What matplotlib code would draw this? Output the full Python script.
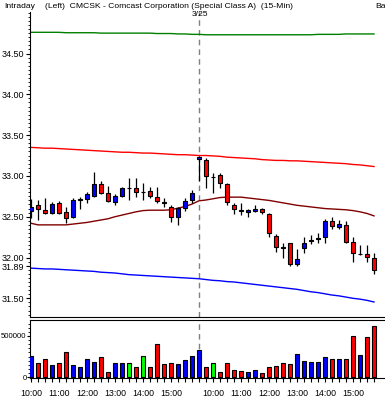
import matplotlib
matplotlib.use('Agg')
import matplotlib.pyplot as plt
import matplotlib.ticker as tck
import numpy as np

# 15-minute bars: day 1 from 10:00, day 2 (3/25) from 9:30
opens = [32.57, 32.645, 32.58, 32.54, 32.665, 32.56, 32.50, 32.71, 32.72, 32.755,
         32.90, 32.785, 32.685, 32.755, 32.85, 32.85, 32.80, 32.815, 32.74, 32.685,
         32.625, 32.495, 32.605, 32.70, 33.205, 33.195, 32.985, 33.01, 32.895, 32.645,
         32.58, 32.56, 32.575, 32.595, 32.53, 32.265, 32.125, 32.175, 31.915, 32.115,
         32.20, 32.23, 32.25, 32.445, 32.38, 32.40, 32.185, 32.04, 32.04, 32.00]
highs = [32.72, 32.70, 32.73, 32.68, 32.69, 32.62, 32.725, 32.74, 32.805, 33.05,
         32.94, 32.875, 32.775, 32.86, 32.98, 32.97, 32.91, 32.87, 32.87, 32.725,
         32.645, 32.625, 32.725, 32.825, 33.24, 33.215, 33.03, 33.04, 32.91, 32.665,
         32.665, 32.60, 32.645, 32.605, 32.55, 32.29, 32.175, 32.18, 32.105, 32.255,
         32.275, 32.295, 32.47, 32.495, 32.46, 32.445, 32.25, 32.155, 32.155, 32.05]
lows = [32.49, 32.46, 32.53, 32.53, 32.53, 32.42, 32.48, 32.60, 32.665, 32.745,
        32.78, 32.675, 32.645, 32.74, 32.70, 32.745, 32.70, 32.725, 32.665, 32.62,
        32.44, 32.40, 32.575, 32.665, 32.94, 32.85, 32.795, 32.85, 32.645, 32.535,
        32.52, 32.50, 32.56, 32.535, 32.255, 32.07, 31.99, 31.90, 31.89, 32.05,
        32.165, 32.175, 32.175, 32.345, 32.345, 32.175, 31.95, 32.03, 31.95, 31.80]
closes = [32.62, 32.59, 32.54, 32.655, 32.54, 32.48, 32.71, 32.72, 32.78, 32.90,
          32.795, 32.695, 32.76, 32.85, 32.85, 32.805, 32.80, 32.76, 32.695, 32.67,
          32.495, 32.605, 32.69, 32.785, 33.235, 33.00, 32.985, 32.91, 32.685, 32.595,
          32.57, 32.58, 32.59, 32.555, 32.30, 32.125, 32.12, 31.915, 31.98, 32.175,
          32.22, 32.245, 32.445, 32.385, 32.405, 32.185, 32.05, 32.045, 32.01, 31.85]
volumes = [254000, 168000, 217000, 152000, 168000, 299000, 143000, 119000, 217000, 180000,
           238000, 66000, 168000, 168000, 176000, 127000, 254000, 127000, 402000, 156000,
           168000, 156000, 205000, 254000, 328000, 127000, 176000, 66000, 176000, 90000,
           78000, 66000, 90000, 53000, 127000, 139000, 176000, 156000, 279000, 201000,
           189000, 189000, 238000, 225000, 225000, 225000, 500000, 266000, 488000, 623000]

# indicator lines, one value per bar
upper_band = [33.35, 33.345, 33.34, 33.34, 33.335, 33.33, 33.325, 33.32, 33.315, 33.31,
              33.305, 33.30, 33.295, 33.29, 33.29, 33.285, 33.28, 33.28, 33.275, 33.27,
              33.265, 33.26, 33.26, 33.255, 33.25, 33.25, 33.245, 33.24, 33.23, 33.225,
              33.22, 33.215, 33.21, 33.20, 33.195, 33.19, 33.19, 33.185, 33.185, 33.18,
              33.175, 33.17, 33.165, 33.16, 33.155, 33.15, 33.14, 33.135, 33.125, 33.115]
mid_line = [32.42, 32.40, 32.40, 32.40, 32.40, 32.40, 32.41, 32.42, 32.43, 32.445,
            32.46, 32.475, 32.50, 32.52, 32.54, 32.56, 32.575, 32.58, 32.58, 32.58,
            32.585, 32.605, 32.625, 32.655, 32.695, 32.705, 32.72, 32.735, 32.74, 32.74,
            32.74, 32.73, 32.72, 32.71, 32.70, 32.685, 32.67, 32.655, 32.64, 32.63,
            32.62, 32.61, 32.60, 32.595, 32.59, 32.585, 32.575, 32.56, 32.54, 32.51]
lower_band = [31.87, 31.865, 31.86, 31.86, 31.855, 31.85, 31.845, 31.84, 31.835, 31.83,
              31.82, 31.815, 31.81, 31.80, 31.79, 31.785, 31.78, 31.775, 31.77, 31.765,
              31.76, 31.755, 31.75, 31.745, 31.74, 31.73, 31.72, 31.715, 31.705, 31.70,
              31.69, 31.68, 31.67, 31.66, 31.65, 31.64, 31.63, 31.62, 31.61, 31.595,
              31.58, 31.57, 31.555, 31.54, 31.53, 31.515, 31.50, 31.49, 31.475, 31.455]
top_line = [34.76, 34.76, 34.76, 34.76, 34.76, 34.755, 34.755, 34.755, 34.755, 34.755,
            34.75, 34.75, 34.75, 34.75, 34.75, 34.75, 34.75, 34.75, 34.745, 34.745,
            34.745, 34.74, 34.74, 34.735, 34.735, 34.73, 34.73, 34.73, 34.73, 34.73,
            34.73, 34.73, 34.73, 34.73, 34.73, 34.73, 34.73, 34.73, 34.73, 34.73,
            34.73, 34.735, 34.735, 34.735, 34.735, 34.74, 34.74, 34.74, 34.74, 34.74]

time_tick_bars = [0, 4, 8, 12, 16, 20, 26, 30, 34, 38, 42, 46]
time_tick_labels = ['10:00', '11:00', '12:00', '13:00', '14:00', '15:00',
                    '10:00', '11:00', '12:00', '13:00', '14:00', '15:00']
price_ticks = [31.50, 31.89, 32.00, 32.50, 33.00, 33.50, 34.00, 34.50]
session_break = 24
session_label = '3/25'

UP, DOWN, FLAT = '#0000ff', '#ff0000', '#00ff00'
W, H = 385, 398
FONT = 'Liberation Sans'


def bar_colors(o, c):
    """Blue for up bars, red for down bars, green when open == close."""
    return [UP if cc > oo else DOWN if cc < oo else FLAT for oo, cc in zip(o, c)]


def draw_candles(ax, o, h, l, c):
    """Black wicks with coloured bodies; a flat body shows as a dash."""
    x = np.arange(len(o))
    o, h, l, c = map(np.asarray, (o, h, l, c))
    ax.vlines(x, l, h, color='black', lw=0.9, zorder=3)
    colors = [UP if cc > oo else DOWN for oo, cc in zip(o, c)]
    ax.bar(x, np.abs(c - o), bottom=np.minimum(o, c), width=0.62, color=colors,
           edgecolor='black', linewidth=0.8, zorder=4)


fig = plt.figure(figsize=(W / 100, H / 100), dpi=100)
fig.patch.set_facecolor('white')

ax = fig.add_axes([30 / W, (H - 317) / H, (W - 30) / W, (317 - 12) / H])
vax = fig.add_axes([30 / W, (H - 378) / H, (W - 30) / W, (378 - 320) / H])

x = np.arange(len(opens))
xlim = (-1 / 7, (W - 31) / 7)

ax.plot(x, top_line, color='#008000', lw=1)
ax.plot(x, upper_band, color='#ff0000', lw=1)
ax.plot(x, mid_line, color='#800000', lw=1)
ax.plot(x, lower_band, color='#0000ff', lw=1)
ax.axvline(session_break, color='#808080', lw=1, ls=(0, (4, 3)), zorder=1)
draw_candles(ax, opens, highs, lows, closes)

ax.set_xlim(xlim)
ax.set_ylim(31.271, 35.009)
ax.set_yticks(price_ticks)
ax.yaxis.set_major_formatter(tck.FormatStrFormatter('%.2f'))
ax.yaxis.set_minor_locator(tck.MultipleLocator(0.05))
ax.set_xticks([])
for s in ['top', 'right']:
    ax.spines[s].set_visible(False)
ax.tick_params(axis='y', which='major', length=3, width=0.8, pad=1, labelsize=6.5)
ax.tick_params(axis='y', which='minor', length=1.5, width=0.6)

vax.bar(x, volumes, width=0.62, color=bar_colors(opens, closes),
        edgecolor='black', linewidth=0.8, zorder=3)
vax.axvline(session_break, color='#808080', lw=1, ls=(0, (4, 3)), zorder=1)
vax.set_xlim(xlim)
vax.set_ylim(-12000, 695000)
vax.set_yticks([0, 500000])
vax.yaxis.set_major_formatter(tck.FormatStrFormatter('%d'))
vax.yaxis.set_minor_locator(tck.MultipleLocator(50000))
vax.set_xticks(x, minor=True)
vax.set_xticks(time_tick_bars)
vax.set_xticklabels(time_tick_labels)
vax.spines['right'].set_visible(False)
vax.tick_params(axis='y', which='major', length=2, width=0.8, pad=0.5, labelsize=5.6)
vax.tick_params(axis='y', which='minor', length=1.5, width=0.6)
vax.tick_params(axis='x', which='both', length=3, width=0.8, pad=5, labelsize=6.3)

for a in (ax, vax):
    for lab in a.get_yticklabels() + a.get_xticklabels():
        lab.set_family(FONT)

title_y = 1 - 6 / H
fig.text(4 / W, title_y, 'Intraday', fontsize=6.1, family=FONT, va='center')
fig.text(45 / W, title_y,
         '(Left)  CMCSK - Comcast Corporation (Special Class A)  (15-Min)',
         fontsize=6.1, family=FONT, va='center')
fig.text(375 / W, title_y, 'Ba', fontsize=6.1, family=FONT, va='center')
fig.text(200 / W, 1 - 15 / H, session_label, fontsize=6.1, family=FONT,
         va='center', ha='center')

fig.savefig('out.png', dpi=100, facecolor='white')
